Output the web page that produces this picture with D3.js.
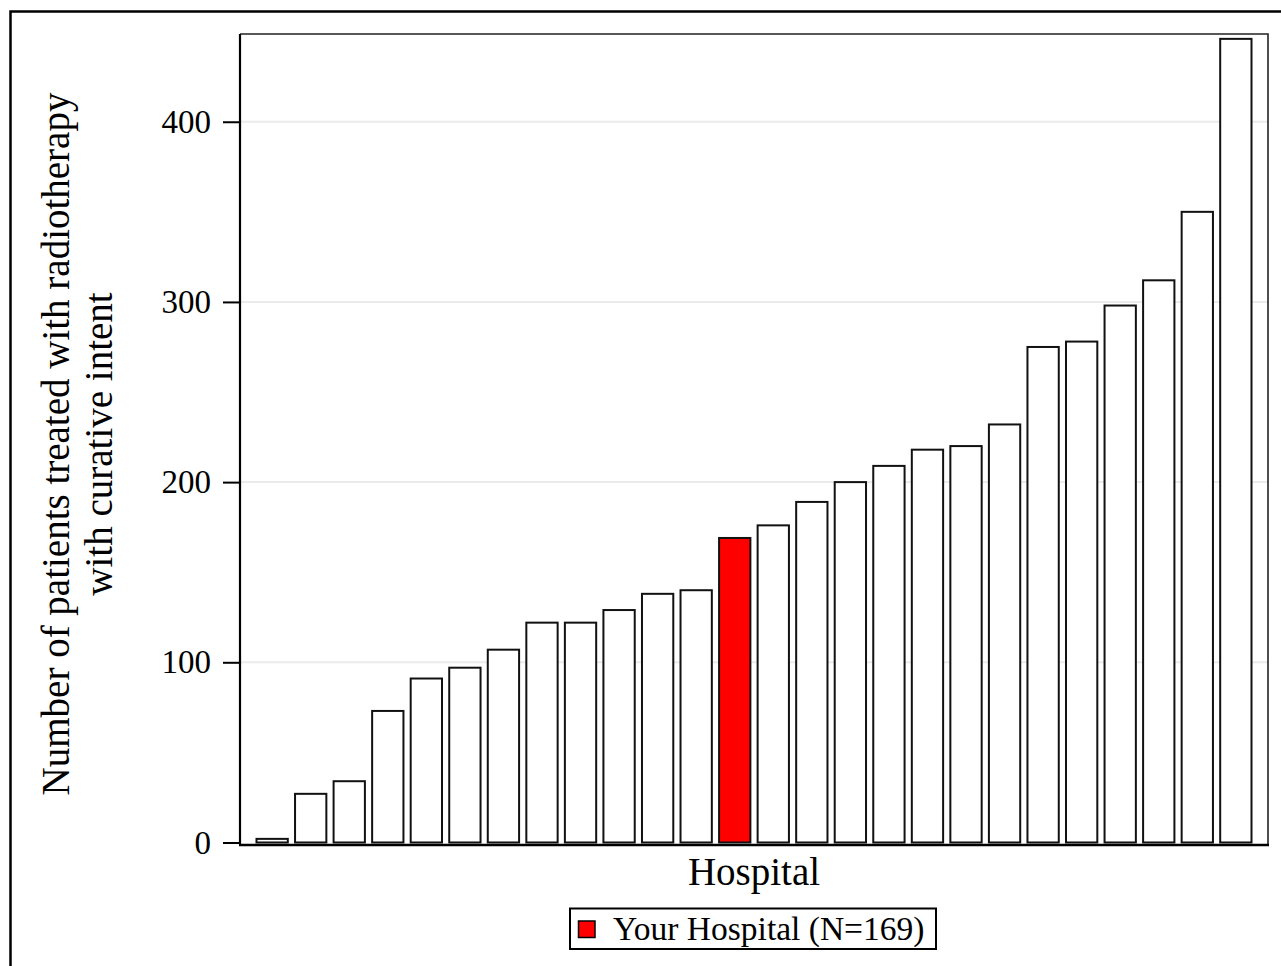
<!DOCTYPE html>
<html lang="en">
<head>
  <meta charset="UTF-8">
  <title>Patients treated with radiotherapy by hospital</title>
  <script src="https://d3js.org/d3.v7.min.js"></script>
  <style>
    body { margin: 0; background: #fff; }
    svg { display: block; font-family: "Liberation Serif", "Times New Roman", serif; }
  </style>
</head>
<body>
<div id="chart"></div>
<script>
  // data (sorted ascending)
  const hospitals = d3.range(1, 27).map(i => "H" + i);
  const patients = [2, 27, 34, 73, 91, 97, 107, 122, 122, 129, 138, 140, 169,
                    176, 189, 200, 209, 218, 220, 232, 275, 278, 298, 312, 350, 446];
  const yourHospital = "H13";
  const yTicks = [0, 100, 200, 300, 400];
  const legendLabel = "Your Hospital (N=169)";

  const width = 1281, height = 966;
  const plot = { left: 240, right: 1268, top: 34, bottom: 845 };

  const svg = d3.select("#chart").append("svg")
      .attr("width", width)
      .attr("height", height);

  // outer frame (runs off the right/bottom edge like the original)
  svg.append("rect")
      .attr("x", 10.5).attr("y", 11.5)
      .attr("width", 1300).attr("height", 1000)
      .attr("fill", "#fff")
      .attr("stroke", "#000")
      .attr("stroke-width", 2.5);

  const x = d3.scaleBand()
      .domain(hospitals)
      .range([plot.left, plot.right])
      .paddingInner(0.136)
      .paddingOuter(0.402);

  const y = d3.scaleLinear()
      .domain([-1.4, 448.7])
      .range([plot.bottom, plot.top]);

  // gridlines
  svg.append("g")
      .selectAll("line")
      .data(yTicks.filter(d => d > 0))
      .join("line")
      .attr("x1", plot.left).attr("x2", plot.right)
      .attr("y1", d => y(d)).attr("y2", d => y(d))
      .attr("stroke", "#ebebeb")
      .attr("stroke-width", 2);

  // frame top + right
  svg.append("path")
      .attr("d", `M${plot.left},${plot.top}H${plot.right}V${plot.bottom}`)
      .attr("fill", "none")
      .attr("stroke", "#222")
      .attr("stroke-width", 1.6);

  // bars
  svg.append("g")
      .selectAll("rect")
      .data(hospitals)
      .join("rect")
      .attr("x", d => x(d) + 1)
      .attr("width", x.bandwidth() - 2)
      .attr("y", (d, i) => y(patients[i]))
      .attr("height", (d, i) => y(0) - y(patients[i]))
      .attr("fill", d => d === yourHospital ? "#ff0000" : "#fff")
      .attr("stroke", "#111")
      .attr("stroke-width", 2);

  // y axis
  const yAxis = svg.append("g")
      .attr("transform", `translate(${plot.left},0)`)
      .call(d3.axisLeft(y).tickValues(yTicks).tickSize(17).tickPadding(12));
  yAxis.select(".domain")
      .attr("d", `M0,${plot.top}V${plot.bottom}`)
      .attr("stroke", "#000")
      .attr("stroke-width", 2.2);
  yAxis.selectAll(".tick line").attr("stroke", "#000").attr("stroke-width", 2);
  yAxis.selectAll(".tick text")
      .attr("font-family", "Liberation Serif, serif")
      .attr("font-size", 33)
      .attr("fill", "#000");

  // x axis line (no ticks)
  svg.append("line")
      .attr("x1", plot.left - 1).attr("x2", plot.right + 1)
      .attr("y1", plot.bottom).attr("y2", plot.bottom)
      .attr("stroke", "#000")
      .attr("stroke-width", 2.7);

  // axis titles
  svg.append("text")
      .attr("x", (plot.left + plot.right) / 2)
      .attr("y", 885)
      .attr("text-anchor", "middle")
      .attr("font-size", 39)
      .text("Hospital");

  const yTitle = svg.append("text")
      .attr("transform", "translate(0,444) rotate(-90)")
      .attr("text-anchor", "middle")
      .attr("font-size", 39);
  yTitle.append("tspan").attr("x", 0).attr("y", 69)
      .text("Number of patients treated with radiotherapy");
  yTitle.append("tspan").attr("x", 0).attr("y", 112)
      .text("with curative intent");

  // legend
  const legend = svg.append("g");
  legend.append("rect")
      .attr("x", 570).attr("y", 908.5)
      .attr("width", 366).attr("height", 40.5)
      .attr("fill", "#fff")
      .attr("stroke", "#000")
      .attr("stroke-width", 2);
  legend.append("rect")
      .attr("x", 578.5).attr("y", 921)
      .attr("width", 16.5).attr("height", 16.5)
      .attr("fill", "#ff0000")
      .attr("stroke", "#000")
      .attr("stroke-width", 1.5);
  legend.append("text")
      .attr("x", 613).attr("y", 940)
      .attr("font-size", 33.5)
      .text(legendLabel);
</script>
</body>
</html>
